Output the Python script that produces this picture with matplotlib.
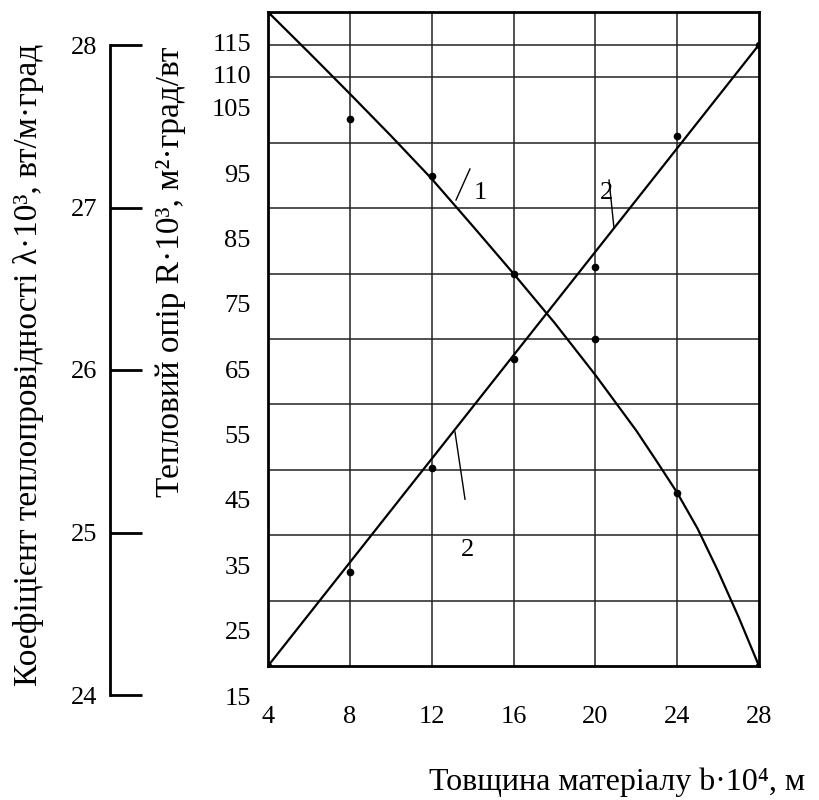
import matplotlib.pyplot as plt
import matplotlib.transforms as mtransforms

plt.rcParams['font.family'] = ['Liberation Serif', 'DejaVu Serif']

# ---------------- data ----------------
# curve 1: thermal resistance curve (decreasing)
b_curve1 = [4, 6, 8, 10, 12, 14, 16, 18, 20, 22, 23, 24, 25, 26, 27, 28]
R_curve1 = [120, 113.8, 107.5, 101.1, 94.5, 87.3, 80, 72.5, 64.5, 56, 51.3, 46.5, 41, 34.5, 27.5, 20]
# measured points near curve 1
b_pts1 = [4, 8, 12, 16, 20, 24, 28]
R_pts1 = [120, 103.6, 95, 80, 70, 46.5, 20]

# curve 2: straight line
b_line2 = [4, 28]
R_line2 = [20, 115]
b_pts2 = [4, 8, 12, 16, 20, 24, 28]
R_pts2 = [20, 34.4, 50.2, 67, 81, 101, 115]

x_ticks = [4, 8, 12, 16, 20, 24, 28]
x_grid = [8, 12, 16, 20, 24]
y_grid = [30, 40, 50, 60, 70, 80, 90, 100, 110, 115]
R_labels = [15, 25, 35, 45, 55, 65, 75, 85, 95, 105, 110, 115]
lam_ticks = [24, 25, 26, 27, 28]

# ---------------- figure ----------------
fig = plt.figure(figsize=(8.19, 8.0), dpi=100)
ax = fig.add_axes([268 / 819, 1 - 666 / 800, 491 / 819, 654 / 800])
ax.set_xlim(4, 28)
ax.set_ylim(20, 120)

for x in x_grid:
    ax.axvline(x, color='#222222', lw=1.1, zorder=1)
for y in y_grid:
    ax.axhline(y, color='#222222', lw=1.1, zorder=1)

ax.plot(b_curve1, R_curve1, color='black', lw=1.6, zorder=3)
ax.plot(b_line2, R_line2, color='black', lw=1.6, zorder=3)
ax.plot(b_pts1, R_pts1, 'o', color='black', ms=4.5, zorder=4)
ax.plot(b_pts2, R_pts2, 'o', color='black', ms=4.5, zorder=4)

# curve labels with leaders
ax.plot([13.87, 13.19], [96, 91.25], color='black', lw=1)
ax.text(14.36, 92.3, '1', fontsize=19, ha='center', va='center')
ax.plot([20.67, 20.91], [94.3, 87.0], color='black', lw=1)
ax.text(20.57, 92.3, '2', fontsize=19, ha='center', va='center')
ax.plot([13.14, 13.63], [55.8, 45.5], color='black', lw=1)
ax.text(13.73, 37.7, '2', fontsize=19, ha='center', va='center')

for s in ax.spines.values():
    s.set_linewidth(2)

ax.set_xticks(x_ticks)
ax.tick_params(axis='x', length=0, pad=29, labelsize=19)
ax.set_yticks([])

trans = mtransforms.blended_transform_factory(ax.transAxes, ax.transData)
for v in R_labels:
    ax.text(-0.035, v, str(v), transform=trans, ha='right', va='center',
            fontsize=19, clip_on=False)

# lambda scale on the far left
lax = fig.add_axes([110 / 819, 1 - 695 / 800, 0.05, 650 / 800])
lax.set_ylim(24, 28)
lax.set_xticks([])
lax.set_yticks(lam_ticks)
for k in ['top', 'right', 'bottom']:
    lax.spines[k].set_visible(False)
lax.spines['left'].set_linewidth(2)
lax.patch.set_alpha(0)
lax.tick_params(axis='y', direction='in', length=23, width=2, pad=9, labelsize=19)

fig.text(29 / 819, 1 - 365 / 800, 'Коефіцієнт теплопровідності λ·10³, вт/м·град',
         rotation=90, ha='center', va='center', fontsize=24)
fig.text(171 / 819, 1 - 272 / 800, 'Тепловий опір R·10³, м²·град/вт',
         rotation=90, ha='center', va='center', fontsize=24)
fig.text(805 / 819, 1 - 782 / 800, 'Товщина матеріалу b·10⁴, м',
         ha='right', va='center', fontsize=23)

fig.savefig('out.png', dpi=100)
